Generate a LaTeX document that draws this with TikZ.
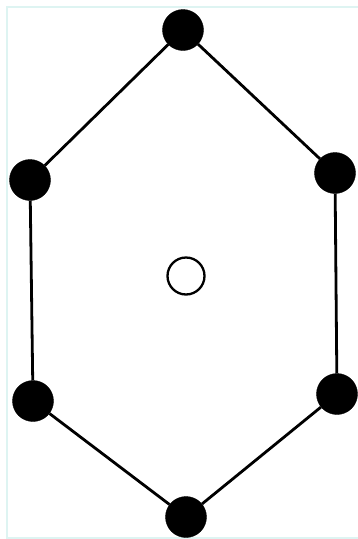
\documentclass[tikz,border=0pt]{standalone}
\usepackage{tikz}
\usetikzlibrary{positioning}
\definecolor{framecyan}{RGB}{222,244,242}
\tikzset{
  dot/.style={circle,fill=black,draw=black,inner sep=0pt,minimum size=#1},
  hole/.style={circle,draw=black,fill=white,line width=2.3pt,inner sep=0pt,minimum size=37pt},
}

\begin{document}
\begin{tikzpicture}[
    x=1pt,y=-1pt,
    edge/.style={line width=2.8pt,black},
  ]
    \useasboundingbox (0,0) rectangle (358,539);
    % frame
    \draw[framecyan,line width=1.5pt] (7,7) rectangle (362,538);
    % outer ring
    \node[dot=41pt] (top) at (183,30) {};
    \node[dot=41pt] (lup) at (30,180) {};
    \node[dot=41pt] (rup) at (335,173) {};
    \node[dot=41pt] (llo) at (33,401) {};
    \node[dot=41pt] (rlo) at (337,394) {};
    \node[dot=41pt] (bot) at (186,517) {};
    % centre
    \node[hole] (mid) at (186,276) {};
    % edges
    \draw[edge] (top) -- (lup);
    \draw[edge] (top) -- (rup);
    \draw[edge] (lup) -- (llo);
    \draw[edge] (rup) -- (rlo);
    \draw[edge] (llo) -- (bot);
    \draw[edge] (rlo) -- (bot);
  \end{tikzpicture}
\end{document}
